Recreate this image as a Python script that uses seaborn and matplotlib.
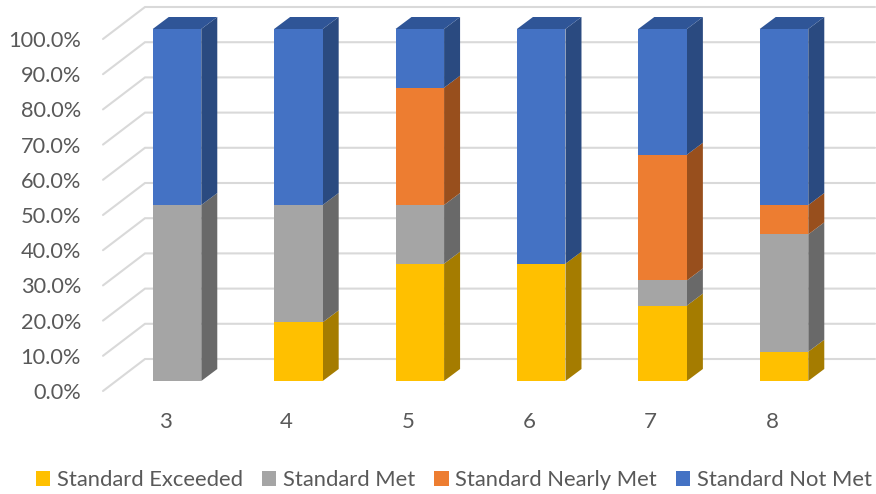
import matplotlib
matplotlib.use("Agg")
import matplotlib.pyplot as plt
from matplotlib.patches import Polygon
from matplotlib.transforms import ScaledTranslation
import numpy as np
import seaborn as sns

grades = ["3", "4", "5", "6", "7", "8"]
exceeded = [0, 16.67, 33.33, 33.33, 21.43, 8.33]
met = [50, 33.33, 16.67, 0, 7.14, 33.33]
nearly_met = [0, 0, 33.33, 0, 35.71, 8.33]
not_met = [50, 50, 16.67, 66.67, 35.72, 50.01]
series_names = ["Standard Exceeded", "Standard Met", "Standard Nearly Met", "Standard Not Met"]
front_colors = ["#FFC000", "#A5A5A5", "#ED7D31", "#4472C4"]
side_colors = ["#A57C00", "#696969", "#984F1D", "#2A4A80"]
top_color = "#2F5597"
y_ticks = list(range(0, 101, 10))
y_labels = [f"{v:.1f}%" for v in y_ticks]

W, H = 876, 494
PX_PER_CAT = 121.4
PX_PER_PCT = 3.52
BAR_WIDTH = 0.4
DEPTH_X = 16 / PX_PER_CAT
DEPTH_Y = 12 / PX_PER_PCT

sns.set_theme(style="white")
plt.rcParams["font.family"] = ["Lato", "DejaVu Sans"]

fig = plt.figure(figsize=(W / 100, H / 100), dpi=100, facecolor="white")
ax = fig.add_axes([103 / W, (H - 391) / H, 772 / W, 391 / H])

# Stacked front faces, with the extruded side faces beside them
bottoms = np.zeros(len(grades))
for name, values, front, side in zip(series_names, [exceeded, met, nearly_met, not_met],
                                     front_colors, side_colors):
    values = np.array(values, dtype=float)
    sns.barplot(x=grades, y=values, bottom=bottoms, color=front, saturation=1,
                width=BAR_WIDTH, label=name, linewidth=0, ax=ax, zorder=4)
    for i, (v, b) in enumerate(zip(values, bottoms)):
        if v > 0:
            r = i + BAR_WIDTH / 2
            ax.add_patch(Polygon([(r, b), (r + DEPTH_X, b + DEPTH_Y),
                                  (r + DEPTH_X, b + v + DEPTH_Y), (r, b + v)],
                                 closed=True, facecolor=side, edgecolor="none", zorder=3))
    bottoms = bottoms + values

# Top cap of each column
for i, total in enumerate(bottoms):
    left, right = i - BAR_WIDTH / 2, i + BAR_WIDTH / 2
    ax.add_patch(Polygon([(left, total), (right, total),
                          (right + DEPTH_X, total + DEPTH_Y), (left + DEPTH_X, total + DEPTH_Y)],
                         closed=True, facecolor=top_color, edgecolor="none", zorder=3))

ax.set_xlim((103 - 177) / PX_PER_CAT, (875 - 177) / PX_PER_CAT)
ax.set_ylim(-10 / PX_PER_PCT, 381 / PX_PER_PCT)

# Floor and back wall gridlines of the 3D box
wall_front_x, wall_back_x = ax.get_xlim()[0], (145 - 177) / PX_PER_CAT
wall_front_dy, wall_back_dy = -10 / PX_PER_PCT, 22 / PX_PER_PCT
for v in y_ticks:
    ax.plot([wall_front_x, wall_back_x, ax.get_xlim()[1]],
            [v + wall_front_dy, v + wall_back_dy, v + wall_back_dy],
            color="#D9D9D9", lw=1.5, zorder=1, solid_joinstyle="miter", clip_on=False)

ax.set_yticks(y_ticks, y_labels)
ax.tick_params(axis="y", length=0, labelsize=15.7, labelcolor="#595959", pad=15.8)
ax.tick_params(axis="x", length=0, labelsize=16, labelcolor="#595959", pad=15)
sns.despine(ax=ax, left=True, bottom=True)
ax.set_xlabel("")
ax.set_ylabel("")

# Tick labels sit on the front plane of the box, not on the bars' plane
down = ScaledTranslation(0, -10 / 100, fig.dpi_scale_trans)
left_shift = ScaledTranslation(-12 / 100, 0, fig.dpi_scale_trans)
for lab in ax.get_yticklabels():
    lab.set_transform(lab.get_transform() + down)
for lab in ax.get_xticklabels():
    lab.set_transform(lab.get_transform() + left_shift)

handles, labels = ax.get_legend_handles_labels()
ax.legend(handles, labels, loc="center left", bbox_to_anchor=(36 / W, (H - 480) / H),
          bbox_transform=fig.transFigure, ncols=4, frameon=False, fontsize=15.8,
          labelcolor="#595959", handlelength=0.66, handleheight=0.66, handletextpad=0.3,
          columnspacing=0.86, borderpad=0, borderaxespad=0)

fig.savefig("out.png", dpi=100)
